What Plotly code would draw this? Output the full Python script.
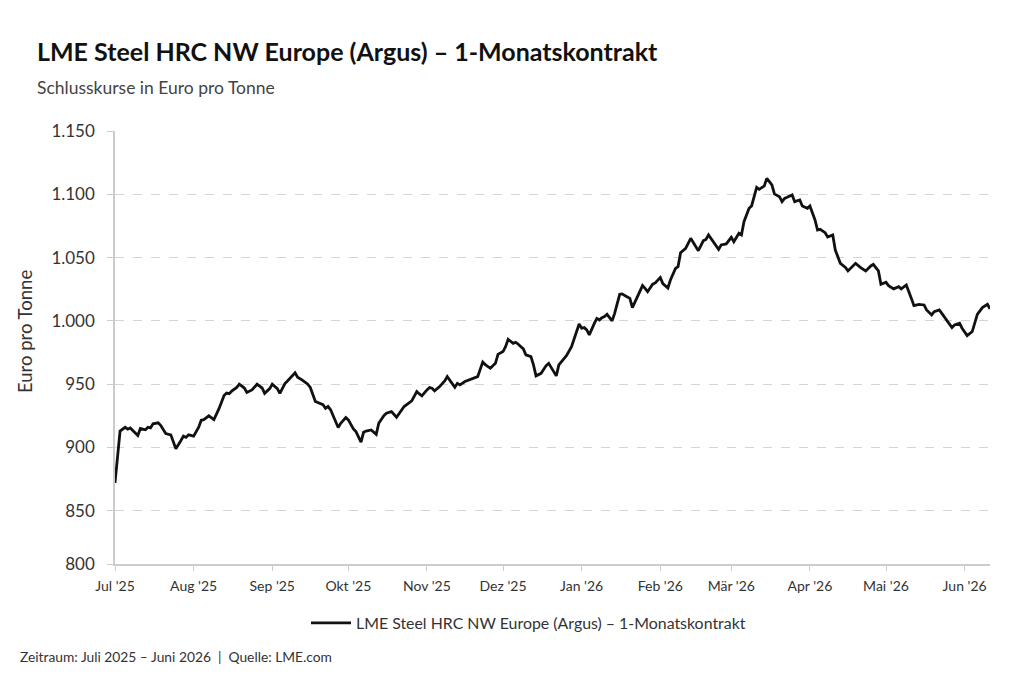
import pandas as pd
import plotly.graph_objects as go

start_date = "2025-07-01"
# days since 1 July 2025
days = [0, 1, 2, 4, 5, 6, 9, 10, 12, 13, 14, 15, 17, 18, 20, 22, 24, 26, 27, 28, 29,
        31, 33, 34, 35, 37, 39, 41, 43, 44, 45, 46, 48, 49, 51, 52, 54, 56, 58, 59,
        61, 62, 64, 65, 67, 68, 71, 72, 73, 74, 76, 77, 79, 81, 82, 83, 84, 85, 87,
        88, 89, 91, 92, 94, 95, 97, 98, 99, 101, 103, 104, 106, 107, 109, 111, 113,
        114, 117, 119, 120, 121, 123, 124, 125, 126, 128, 130, 131, 134, 135, 136,
        138, 140, 141, 143, 145, 146, 148, 150, 151, 153, 154, 155, 157, 158, 159,
        161, 162, 164, 165, 166, 168, 170, 171, 172, 174, 175, 177, 178, 180, 182,
        183, 184, 185, 186, 187, 189, 190, 191, 192, 193, 194, 196, 197, 199, 200,
        201, 203, 204, 205, 207, 208, 209, 210, 212, 213, 215, 216, 218, 219, 221,
        222, 223, 225, 227, 228, 230, 232, 233, 234, 236, 238, 239, 241, 243, 244,
        246, 247, 248, 250, 251, 253, 254, 256, 257, 259, 260, 262, 263, 264, 265,
        267, 268, 270, 271, 273, 274, 276, 277, 278, 280, 281, 283, 284, 286, 288,
        289, 292, 294, 296, 298, 299, 301, 302, 304, 305, 307, 309, 310, 312, 314,
        315, 317, 319, 320, 322, 323, 325, 326, 328, 330, 331, 333, 334, 336, 338,
        339, 340, 342, 343, 344, 345]
prices = [872, 890, 913, 916, 914.5, 915.5, 909.5, 915, 914, 916, 915.5, 918.7, 919.5,
          917.5, 911, 910, 899, 905.5, 909, 908, 910,
          909, 916, 921.5, 922, 925, 922, 930.7, 941, 943, 942.5, 944.5, 947.5, 950,
          947, 943.5, 945.5, 950, 947, 942.8,
          946.5, 950, 946.5, 942.8, 950.5, 952.5, 959, 955.5, 954.5, 953, 950, 947.4,
          936.3, 935, 933.8, 931, 932.4, 929.8, 920.5,
          915.8, 919.2, 923.7, 921.8, 914.7, 912.6, 904.2, 912, 913, 913.9, 910.4,
          919.2, 925.2, 927.1, 928.4, 923.9, 929.8,
          932.4, 936.8, 944.2, 942.3, 940.8, 945.5, 947.4, 946.8, 944.7, 948.1, 952.6,
          956, 947.6, 950.7, 949.5,
          952.1, 953.5, 954.5, 956, 967.5, 965.5, 962.6, 966.5, 973.6, 975.8, 979.7,
          985.5, 982.3, 983.1, 981.6,
          977.9, 973.2, 971.8, 965.3, 956.6, 958.6, 964.7, 966.5, 963.1, 956.6, 965.3,
          970.5, 972.6, 979.7, 992.9,
          997.6, 994.2, 994.7, 992.9, 989, 998.1, 1002, 1000.8, 1002.6, 1003.4, 1005.2,
          1000, 1006, 1021, 1021.3,
          1020, 1017.8, 1010.5, 1015.2, 1024.5, 1027.9, 1025.7, 1023.1, 1029, 1030,
          1034.3, 1029.5, 1026, 1032.3, 1041.5,
          1042.8, 1053.9, 1057.3, 1065.2, 1061.8, 1055.5, 1063.4, 1064.4, 1067.9,
          1062.6, 1056.5, 1060, 1060.8, 1066, 1062.6,
          1069.2, 1067.9, 1078.4, 1088.9, 1090.8, 1105.5, 1103.9, 1106.6, 1112.6,
          1107.4, 1100.3, 1098.1, 1094.2, 1096.8, 1097.6,
          1099.5, 1094.2, 1095.5, 1090.8, 1088.9, 1090.8, 1079.7, 1071.8, 1072.3,
          1069.7, 1066.3, 1067.9, 1056, 1045.5, 1042.3,
          1039.5, 1045.5, 1042.1, 1039.5, 1043.4, 1044.7, 1039.5, 1028.9, 1030.5,
          1027.9, 1025.3, 1027.1, 1025.3, 1028.4, 1017.8,
          1012.1, 1013.1, 1012.6, 1008.7, 1004.7, 1007.3, 1008.7, 1006, 1000, 994.7,
          996.8, 998.1, 994.2, 988.4, 991.6,
          999.4, 1005.2, 1010.5, 1012.1, 1013.1, 1009.5]

month_ticks = ["2025-07-01", "2025-08-01", "2025-09-01", "2025-10-01", "2025-11-01",
               "2025-12-01", "2026-01-01", "2026-02-01", "2026-03-01", "2026-04-01",
               "2026-05-01", "2026-06-01"]
month_labels = ["Jul '25", "Aug '25", "Sep '25", "Okt '25", "Nov '25", "Dez '25",
                "Jan '26", "Feb '26", "Mär '26", "Apr '26", "Mai '26", "Jun '26"]
y_ticks = [808, 850, 900, 950, 1000, 1050, 1100, 1150]
y_labels = ["800", "850", "900", "950", "1.000", "1.050", "1.100", "1.150"]

series_name = "LME Steel HRC NW Europe (Argus) – 1-Monatskontrakt"

dates = pd.Timestamp(start_date) + pd.to_timedelta(days, unit="D")

FONT = "Lato"
L, R, T, B = 115, 34, 131, 119
PW, PH = 1024 - L - R, 683 - T - B


def px_x(x):
    return (x - L) / PW


def px_y(y):
    return (683 - B - y) / PH


fig = go.Figure()
fig.add_trace(go.Scatter(
    x=dates, y=prices, mode="lines", name=series_name,
    line=dict(color="#111111", width=2.8),
))

fig.update_layout(
    width=1024, height=683,
    paper_bgcolor="white", plot_bgcolor="white",
    margin=dict(l=L, r=R, t=T, b=B),
    font=dict(family=FONT, color="#333333", size=15),
    showlegend=True,
    legend=dict(orientation="h", x=px_x(306), xanchor="left", y=px_y(623), yanchor="middle",
                font=dict(size=15.9, color="#333333"), itemwidth=40),
    xaxis=dict(
        type="date", range=["2025-07-01", "2026-06-11"],
        tickvals=month_ticks, ticktext=month_labels,
        showgrid=False, zeroline=False,
        showline=True, linecolor="#cccccc", linewidth=1.5,
        ticks="outside", ticklen=5, tickcolor="#cccccc",
        tickfont=dict(size=14, color="#333333"), ticklabelstandoff=3,
    ),
    yaxis=dict(
        range=[808, 1150], tickvals=y_ticks, ticktext=y_labels,
        showgrid=True, gridcolor="#d5d5d5", griddash="dash", gridwidth=1,
        zeroline=False, showline=True, linecolor="#cccccc", linewidth=1.5,
        ticks="outside", ticklen=6, tickcolor="#cccccc",
        tickfont=dict(size=17, color="#333333"), ticklabelstandoff=9,
    ),
)

fig.add_annotation(text="Euro pro Tonne", textangle=-90,
                   xref="paper", yref="paper", x=px_x(25), y=px_y(332),
                   xanchor="center", yanchor="middle", showarrow=False,
                   font=dict(family=FONT, size=18.5, color="#333333"))
fig.add_annotation(text="<b>LME Steel HRC NW Europe (Argus) – 1-Monatskontrakt</b>",
                   xref="paper", yref="paper", x=px_x(35), y=px_y(51),
                   xanchor="left", yanchor="middle", showarrow=False,
                   font=dict(family=FONT, size=25, color="#111111"))
fig.add_annotation(text="Schlusskurse in Euro pro Tonne",
                   xref="paper", yref="paper", x=px_x(35), y=px_y(87),
                   xanchor="left", yanchor="middle", showarrow=False,
                   font=dict(family=FONT, size=17.5, color="#444444"))
fig.add_annotation(text="Zeitraum: Juli 2025 – Juni 2026  |  Quelle: LME.com",
                   xref="paper", yref="paper", x=px_x(18), y=px_y(656),
                   xanchor="left", yanchor="middle", showarrow=False,
                   font=dict(family=FONT, size=13.8, color="#333333"))

fig.write_html("out.html")
